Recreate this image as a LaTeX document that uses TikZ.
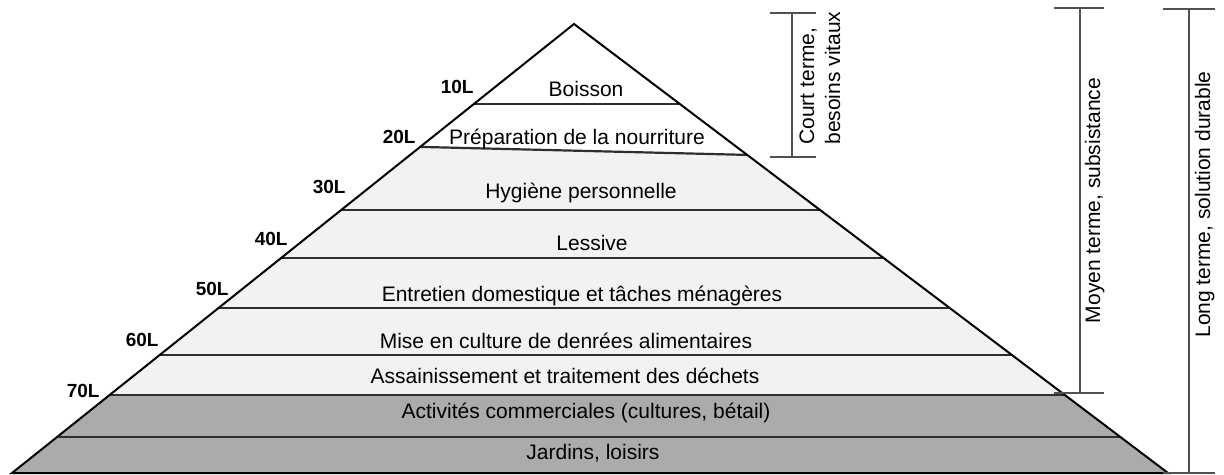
\documentclass[tikz,border=0pt]{standalone}
\usepackage{fontspec}
\setmainfont{Liberation Sans}
\definecolor{lightband}{HTML}{F2F2F2}
\definecolor{darkband}{HTML}{ABABAB}
\definecolor{sepcol}{HTML}{2E2E2E}
\definecolor{brkcol}{HTML}{505050}
\begin{document}
\begin{tikzpicture}[x=0.5pt,y=-0.5pt,
  band/.style={font=\fontsize{10.5}{12.6}\selectfont, inner sep=0pt, anchor=base},
  lvl/.style={font=\fontsize{9.5}{11}\selectfont\bfseries, inner sep=0pt, anchor=base east},
  side/.style={font=\fontsize{10.5}{12.6}\selectfont, inner sep=0pt, rotate=90},
  sepline/.style={draw=sepcol, line width=1.1pt},
  edgeline/.style={draw=black, line width=1pt, line join=miter},
  brk/.style={draw=brkcol, line width=0.85pt}]
\useasboundingbox (0,0) rectangle (1224,475);
\coordinate (apex) at (574,24);
\coordinate (bl) at (12,473);
\coordinate (br) at (1168,473);
\begin{scope}
  \clip (apex) -- (bl) -- (br) -- cycle;
  \fill[white] (0,0) rectangle (1224,475);
  \fill[lightband] (0,136.6) -- (1224,166.6) -- (1224,395) -- (0,395) -- cycle;
  \fill[darkband] (0,395) rectangle (1224,475);
  \draw[sepline] (0,104) -- (1224,104);
  \draw[sepline] (0,136.6) -- (1224,166.6);
  \foreach \yy in {210,258,308,355,395,437} \draw[sepline] (0,\yy) -- (1224,\yy);
\end{scope}
\draw[edgeline] (apex) -- (bl) -- (br) -- cycle;

% band texts
\node[band] (t1) at (586,97) {Boisson};
\node[band] (t2) at (577,145) {Préparation de la nourriture};
\node[band] (t3) at (581,199) {Hygiène personnelle};
\node[band] (t4) at (592,251) {Lessive};
\node[band] (t5) at (582,301) {Entretien domestique et tâches ménagères};
\node[band] (t6) at (566,348) {Mise en culture de denrées alimentaires};
\node[band] (t7) at (565,383) {Assainissement et traitement des déchets};
\node[band] (t8) at (586,418) {Activités commerciales (cultures, bétail)};
\node[band] (t9) at (593,459) {Jardins, loisirs};

% level labels
\node[lvl] (l10) at (474,94) {10L};
\node[lvl] (l20) at (416,144) {20L};
\node[lvl] (l30) at (346,194) {30L};
\node[lvl] (l40) at (288,246) {40L};
\node[lvl] (l50) at (229,296) {50L};
\node[lvl] (l60) at (159,346) {60L};
\node[lvl] (l70) at (100,397) {70L};

% brackets
\coordinate (c1) at (792,13);  \coordinate (c2) at (792,157);
\coordinate (m1) at (1080,8);  \coordinate (m2) at (1080,393);
\coordinate (g1) at (1189,9);  \coordinate (g2) at (1189,473);
\draw[brk] ([xshift=-11]c1) -- ([xshift=12]c1);
\draw[brk] ([xshift=-11]c2) -- ([xshift=12]c2);
\draw[brk] (c1) -- (c2);
\draw[brk] ([xshift=-13]m1) -- ([xshift=12]m1);
\draw[brk] ([xshift=-13]m2) -- ([xshift=12]m2);
\draw[brk] (m1) -- (m2);
\draw[brk] ([xshift=-13]g1) -- ([xshift=13]g1);
\draw[brk] ([xshift=-13]g2) -- ([xshift=13]g2);
\draw[brk] (g1) -- (g2);

\node[side, anchor=base west] (s1a) at (814,145) {Court terme,};
\node[side, anchor=base west] (s1b) at (840,145) {besoins vitaux};
\node[side, anchor=base] (s2) at (1100,200.5) {Moyen terme, subsistance};
\node[side, anchor=base] (s3) at (1210,204.5) {Long terme, solution durable};
\end{tikzpicture}
\end{document}
